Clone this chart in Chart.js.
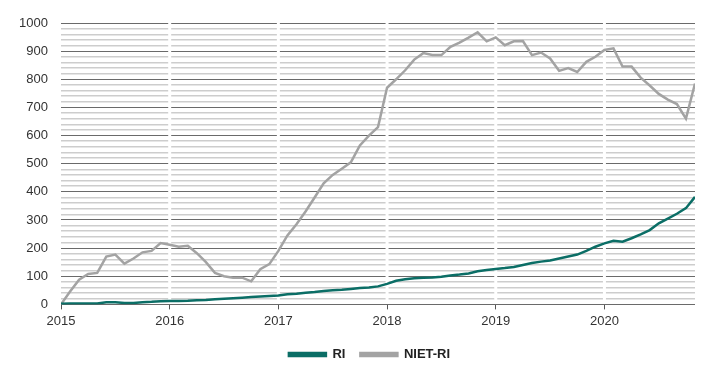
<!DOCTYPE html>
<html>
<head>
<meta charset="utf-8">
<script src="https://cdn.jsdelivr.net/npm/chart.js@4"></script>
<style>
    html, body { margin: 0; padding: 0; background: #fff; }
    #wrap { width: 702px; height: 378px; }
</style>
</head>
<body>
<div id="wrap"><canvas id="chart"></canvas></div>
<script>
// Monthly values, January 2015 - November 2020
const startYear = 2015;
const yearTicks = [2015, 2016, 2017, 2018, 2019, 2020];
const seriesNames = ['RI', 'NIET-RI'];

const riValues = [
    2, 3, 3, 3, 3, 8, 8, 5, 5, 8, 9, 11,
    12, 12, 13, 15, 16, 18, 20, 22, 24, 26, 28, 30,
    32, 36, 38, 41, 44, 48, 50, 52, 55, 58, 60, 64,
    73, 84, 89, 93, 95, 96, 98, 103, 106, 110, 118, 122,
    126, 129, 133, 140, 147, 152, 156, 163, 170, 177, 190, 205,
    217, 226, 223, 235, 249, 264, 288, 305, 322, 342, 382
];

const nietRiValues = [
    0, 46, 88, 108, 112, 170, 177, 145, 163, 185, 190, 218,
    212, 205, 208, 182, 150, 112, 100, 95, 95, 82, 125, 143,
    190, 245, 285, 330, 380, 430, 460, 482, 505, 565, 600, 630,
    770, 800, 832, 870, 893, 886, 886, 915, 930, 948, 967, 935,
    949, 921, 935, 936, 886, 895, 874, 830, 840, 826, 862, 880,
    904, 910, 845, 845, 806, 778, 748, 728, 712, 660, 785
];

const colors = ['#0b6e66', '#a3a3a3'];

// turn month index into a fractional year for the linear x axis
function toPoints(values) {
    return values.map((v, i) => ({ x: startYear + i / 12, y: v }));
}

// white vertical gaps through the grid at every new year
const yearGaps = {
    id: 'yearGaps',
    beforeDatasetsDraw(chart) {
        const { ctx, chartArea, scales } = chart;
        ctx.save();
        ctx.fillStyle = '#fff';
        scales.x.ticks.forEach(t => {
            if (t.value === startYear) return;
            const px = scales.x.getPixelForValue(t.value);
            ctx.fillRect(px - 1.5, chartArea.top - 2, 3, chartArea.bottom - chartArea.top);
        });
        ctx.restore();
    }
};

// nudge the legend a bit to the right, like the original
const legendShift = {
    id: 'legendShift',
    afterLayout(chart) {
        if (!chart.legend) return;
        chart.legend.left += 15;
        chart.legend.right += 15;
    }
};

Chart.defaults.font.family = '"Liberation Sans", Arial, sans-serif';
Chart.defaults.color = '#333';

new Chart(document.getElementById('chart'), {
    type: 'line',
    data: {
        datasets: [
            {
                label: seriesNames[0],
                data: toPoints(riValues),
                borderColor: colors[0],
                backgroundColor: colors[0],
                borderWidth: 2.5,
                pointRadius: 0,
                tension: 0
            },
            {
                label: seriesNames[1],
                data: toPoints(nietRiValues),
                borderColor: colors[1],
                backgroundColor: colors[1],
                borderWidth: 2.5,
                pointRadius: 0,
                tension: 0
            }
        ]
    },
    options: {
        responsive: true,
        maintainAspectRatio: false,
        animation: false,
        layout: { padding: { top: 23, right: 7, left: 14, bottom: 7 } },
        plugins: {
            tooltip: { enabled: false },
            legend: {
                position: 'bottom',
                labels: {
                    boxWidth: 37,
                    boxHeight: 3,
                    padding: 15,
                    color: '#222',
                    font: { size: 13, weight: 'bold' }
                }
            }
        },
        scales: {
            x: {
                type: 'linear',
                min: startYear,
                max: startYear + (riValues.length - 1) / 12,
                afterBuildTicks: s => { s.ticks = yearTicks.map(v => ({ value: v })); },
                ticks: {
                    padding: 4,
                    font: { size: 13 },
                    color: '#333',
                    callback: v => String(v)
                },
                grid: {
                    drawOnChartArea: false,
                    tickLength: 5,
                    color: '#555'
                },
                border: { display: false }
            },
            y: {
                min: 0,
                max: 1000,
                afterFit: s => {
                    s.width = 47;
                    s.paddingTop = 0;
                    s.paddingBottom = 0;
                },
                ticks: {
                    stepSize: 20,
                    autoSkip: false,
                    padding: 13,
                    font: { size: 13 },
                    color: '#333',
                    callback: v => (v % 100 === 0 ? v : '')
                },
                grid: {
                    drawTicks: false,
                    color: ctx => (ctx.tick.value % 100 === 0 ? '#6a6a6a' : '#cdcdcd'),
                    lineWidth: ctx => (ctx.tick.value % 100 === 0 ? 1 : 1.5)
                },
                border: { display: false }
            }
        }
    },
    plugins: [yearGaps, legendShift]
});
</script>
</body>
</html>
